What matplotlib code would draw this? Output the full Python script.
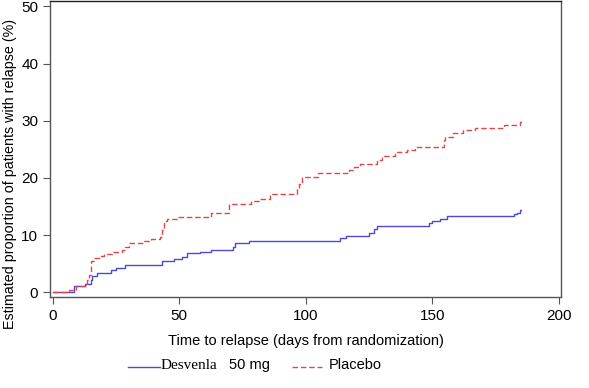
import matplotlib.pyplot as plt
from matplotlib.lines import Line2D

# step points (days, % relapsed)
desv_days = [0, 8.4, 13, 15, 15.7, 17.6, 22.9, 24.9, 28.8, 43.3, 47.9, 51.2, 53.2,
             58.4, 62.4, 71.3, 72.2, 77.5, 113.7, 116, 124.9, 126.9, 128.2, 148.8,
             149.9, 152.9, 155.8, 182.5, 183.5, 184.5, 185]
desv_pct = [0, 1.1, 1.5, 2.2, 2.8, 3.35, 3.9, 4.2, 4.8, 5.4, 5.8, 6.25, 6.8,
            7.1, 7.4, 8.0, 8.7, 9.0, 9.5, 9.9, 10.3, 11.1, 11.6, 12.1,
            12.4, 12.9, 13.3, 13.7, 13.9, 14.4, 14.4]

plac_days = [0, 6.4, 9.1, 13.7, 14.3, 15, 16.3, 18.3, 20.3, 23.6, 27.5, 28.8, 30.1,
             36, 38.7, 42.6, 43.3, 43.9, 45.3, 49, 62.4, 69.6, 78.2, 82, 86, 96.6,
             97.5, 98.5, 105, 117, 119.2, 121.6, 128.2, 130.2, 135.4, 140, 143.3,
             154.5, 155, 158.4, 162.1, 167, 178.2, 184.5, 185]
plac_pct = [0, 0.45, 1.1, 2.2, 3.0, 5.4, 6.0, 6.4, 6.7, 7.1, 7.4, 8.0, 8.6,
            8.9, 9.3, 9.6, 10.9, 12.4, 12.9, 13.1, 13.8, 15.4, 16.0, 16.4, 17.2, 18.2,
            19.0, 20.1, 20.8, 21.4, 21.85, 22.4, 23.1, 23.8, 24.6, 24.9, 25.4,
            26.6, 27.2, 27.8, 28.4, 28.8, 29.2, 29.8, 30.0]

xticks = [0, 50, 100, 150, 200]
yticks = [0, 10, 20, 30, 40, 50]

blue = '#4b4bd6'
red = '#e04848'

plt.rcParams['font.family'] = ['Liberation Sans', 'DejaVu Sans']

fig = plt.figure(figsize=(5.89, 3.88), dpi=100)
ax = fig.add_axes([0.085, 0.235, 0.868, 0.763])

ax.step(desv_days, desv_pct, where='post', color=blue, lw=1)
ax.step(plac_days, plac_pct, where='post', color=red, lw=1, dashes=(4, 2))

ax.set_xlim(-1, 201)
ax.set_ylim(-0.8, 51)
ax.set_xticks(xticks)
ax.set_yticks(yticks)
ax.tick_params(labelsize=11, length=5, color='#555555', direction='out')
for s in ax.spines.values():
    s.set_color('#555555')
    s.set_linewidth(1)
ax.spines['top'].set_color('#222222')

ax.set_xlabel('Time to relapse (days from randomization)', fontsize=10.5, labelpad=8)
# y label sits lower than the axes centre in the original
fig.text(10 / 589, 1 - 174 / 388, 'Estimated proportion of patients with relapse (%)',
         rotation=90, ha='center', va='center', fontsize=10.3)

# legend drawn by hand (mixed fonts)
ly = 1 - 369 / 388
fig.add_artist(Line2D([128 / 589, 160 / 589], [ly + 0.006, ly + 0.006], color=blue, lw=1))
fig.text(161 / 589, ly, 'Desvenla', family='Liberation Serif', fontsize=11, va='baseline')
fig.text(229 / 589, ly, '50 mg', fontsize=10.5, va='baseline')
fig.add_artist(Line2D([292 / 589, 322 / 589], [ly + 0.006, ly + 0.006], color=red, lw=1,
                      dashes=(4, 2)))
fig.text(329 / 589, ly, 'Placebo', fontsize=10.5, va='baseline')

fig.savefig('out.png', dpi=100)
